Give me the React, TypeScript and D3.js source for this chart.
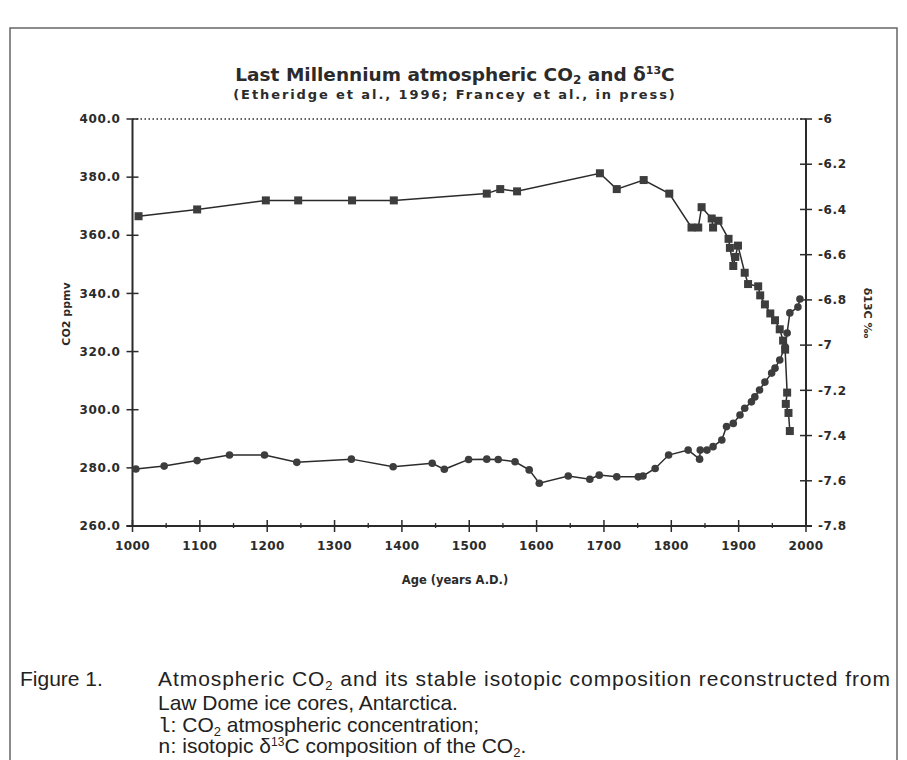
import { scaleLinear, line } from "d3"

// δ13C record (squares, right axis)
const deltaYears = [
  1009, 1096, 1198, 1246, 1326, 1388, 1526, 1546, 1571, 1694, 1719, 1759, 1797,
  1830, 1840, 1845, 1860, 1862, 1870, 1885, 1887, 1892, 1895, 1899, 1909, 1914,
  1929, 1932, 1939, 1947, 1954, 1961, 1966, 1969, 1972, 1970, 1974, 1976,
]
const deltaValues = [
  -6.43, -6.4, -6.36, -6.36, -6.36, -6.36, -6.33, -6.31, -6.32, -6.24, -6.31,
  -6.27, -6.33, -6.48, -6.48, -6.39, -6.44, -6.48, -6.45, -6.53, -6.57, -6.65,
  -6.61, -6.56, -6.68, -6.73, -6.74, -6.78, -6.82, -6.86, -6.89, -6.93, -6.98,
  -7.02, -7.21, -7.26, -7.3, -7.38,
]

// CO2 record (circles, left axis)
const co2Years = [
  1005, 1047, 1096, 1144, 1196, 1244, 1325, 1387, 1445, 1463, 1499, 1526, 1543,
  1568, 1589, 1604, 1647, 1679, 1693, 1719, 1751, 1758, 1776, 1796, 1825, 1842,
  1843, 1853, 1862, 1875, 1882, 1892, 1902, 1909, 1919, 1924, 1931, 1939, 1949,
  1954, 1961, 1969, 1972, 1976, 1988, 1991,
]
const co2Values = [
  279.6, 280.6, 282.5, 284.4, 284.4, 281.9, 283.0, 280.4, 281.6, 279.5, 282.9,
  283.0, 282.9, 282.1, 279.3, 274.7, 277.2, 276.1, 277.5, 276.9, 276.9, 277.2,
  279.8, 284.4, 286.1, 283.0, 286.1, 286.1, 287.3, 289.6, 294.2, 295.3, 298.2,
  300.5, 302.7, 304.4, 306.8, 309.5, 312.6, 314.3, 317.1, 321.6, 326.4, 333.3,
  335.3, 338.1,
]

const yearTicks = [1000, 1100, 1200, 1300, 1400, 1500, 1600, 1700, 1800, 1900, 2000]
const yearMinorTicks = [1050, 1150, 1250, 1350, 1450, 1550, 1650, 1750, 1850, 1950]
const co2Ticks = [400, 380, 360, 340, 320, 300, 280, 260]
const deltaTicks = [-6, -6.2, -6.4, -6.6, -6.8, -7, -7.2, -7.4, -7.6, -7.8]
const deltaTickLabels = ["-6", "-6.2", "-6.4", "-6.6", "-6.8", "-7", "-7.2", "-7.4", "-7.6", "-7.8"]

const INK = "#2b2b2b"
const MARK = "#3d3d3d"
const chartFont = "'DejaVu Sans', sans-serif"
const captionFont = "'Liberation Sans', Arial, sans-serif"
const monoFont = "'Liberation Mono', monospace"

export default function App() {
  const x = scaleLinear().domain([1000, 2000]).range([132.5, 806])
  const yCo2 = scaleLinear().domain([260, 400]).range([526, 119])
  const yDelta = scaleLinear().domain([-7.8, -6]).range([526, 119])

  const co2Pts = co2Years.map((yr, i) => [x(yr), yCo2(co2Values[i])] as [number, number])
  const deltaPts = deltaYears.map((yr, i) => [x(yr), yDelta(deltaValues[i])] as [number, number])
  const path = line()

  const [x0, x1] = x.range()
  const [yBottom, yTop] = yCo2.range()

  return (
    <svg
      width={907}
      height={760}
      style={{ position: "absolute", left: 0, top: 0, background: "#fff" }}
    >
      {/* frame */}
      <rect x={10} y={28} width={887} height={760} fill="none" stroke="#666" strokeWidth={1.5} />

      {/* titles */}
      <text x={455} y={81} textAnchor="middle" fontFamily={chartFont} fontWeight="bold" fontSize={18.5} fill={INK}>
        Last Millennium atmospheric CO
        <tspan fontSize={12} dy={3}>2</tspan>
        <tspan dy={-3}> and δ</tspan>
        <tspan fontSize={11} dy={-7}>13</tspan>
        <tspan dy={7}>C</tspan>
      </text>
      <text x={455} y={99} textAnchor="middle" fontFamily={chartFont} fontWeight="bold" fontSize={13} letterSpacing={1.9} fill={INK}>
        (Etheridge et al., 1996; Francey et al., in press)
      </text>

      {/* axes lines */}
      <line x1={x0} x2={x1} y1={yTop} y2={yTop} stroke={INK} strokeWidth={1.3} strokeDasharray="1.5,2.5" />
      <line x1={x0} x2={x0} y1={yTop} y2={yBottom} stroke={INK} strokeWidth={2} />
      <line x1={x1} x2={x1} y1={yTop} y2={yBottom} stroke={INK} strokeWidth={2} />
      <line x1={x0 - 6} x2={x1 + 6} y1={yBottom} y2={yBottom} stroke={INK} strokeWidth={2} />

      {/* left axis */}
      {co2Ticks.map((t) => (
        <g key={t} transform={`translate(0,${yCo2(t)})`}>
          <line x1={x0 - 6} x2={x0 + 6} stroke={INK} strokeWidth={1.5} />
          <text x={x0 - 12} dy="0.35em" textAnchor="end" fontFamily={chartFont} fontWeight="bold" fontSize={12} letterSpacing={0.6} fill={INK}>
            {t.toFixed(1)}
          </text>
        </g>
      ))}

      {/* right axis */}
      {deltaTicks.map((t, i) => (
        <g key={t} transform={`translate(0,${yDelta(t)})`}>
          <line x1={x1 - 6} x2={x1 + 6} stroke={INK} strokeWidth={1.5} />
          <text x={x1 + 12} dy="0.35em" textAnchor="start" fontFamily={chartFont} fontWeight="bold" fontSize={12} letterSpacing={0.6} fill={INK}>
            {deltaTickLabels[i]}
          </text>
        </g>
      ))}

      {/* bottom axis */}
      {yearTicks.map((t) => (
        <g key={t} transform={`translate(${x(t)},${yBottom})`}>
          <line y1={-6} y2={6} stroke={INK} strokeWidth={1.5} />
          <text y={24} textAnchor="middle" fontFamily={chartFont} fontWeight="bold" fontSize={12} letterSpacing={0.4} fill={INK}>
            {t}
          </text>
        </g>
      ))}
      {yearMinorTicks.map((t) => (
        <line key={t} x1={x(t)} x2={x(t)} y1={yBottom - 3} y2={yBottom + 2} stroke={INK} strokeWidth={1.3} />
      ))}

      {/* axis titles */}
      <text x={455} y={584} textAnchor="middle" fontFamily={chartFont} fontWeight="bold" fontSize={11.5} fill={INK}>
        Age (years A.D.)
      </text>
      <text transform="translate(70,314) rotate(-90)" textAnchor="middle" fontFamily={chartFont} fontWeight="bold" fontSize={11} fill={INK}>
        CO2 ppmv
      </text>
      <text transform="translate(864,313) rotate(90)" textAnchor="middle" fontFamily={chartFont} fontWeight="bold" fontSize={11} fill={INK}>
        δ13C ‰
      </text>

      {/* series lines */}
      <path d={path(deltaPts) ?? ""} fill="none" stroke={INK} strokeWidth={1.5} />
      <path d={path(co2Pts) ?? ""} fill="none" stroke={INK} strokeWidth={1.5} />

      {/* markers */}
      {deltaPts.map(([px, py], i) => (
        <rect key={`d${i}`} x={px - 4} y={py - 4} width={8} height={8} fill={MARK} />
      ))}
      {co2Pts.map(([px, py], i) => (
        <circle key={`c${i}`} cx={px} cy={py} r={3.8} fill={MARK} />
      ))}

      {/* caption */}
      <g fontFamily={captionFont} fontSize={21} fill="#222">
        <text x={20} y={686}>Figure 1.</text>
        <text x={158} y={686} textLength={732} lengthAdjust="spacing">
          Atmospheric CO<tspan fontSize={13} dy={4}>2</tspan>
          <tspan dy={-4}> and its stable isotopic composition reconstructed from</tspan>
        </text>
        <text x={158} y={710}>Law Dome ice cores, Antarctica.</text>
        <text x={158} y={732}>
          <tspan fontFamily={monoFont}>l</tspan>
          <tspan>: CO</tspan>
          <tspan fontSize={13} dy={4}>2</tspan>
          <tspan dy={-4}> atmospheric concentration;</tspan>
        </text>
        <text x={158} y={753}>
          <tspan fontFamily={monoFont}>n</tspan>
          <tspan>: isotopic δ</tspan>
          <tspan fontSize={12} dy={-7}>13</tspan>
          <tspan dy={7}>C composition of the CO</tspan>
          <tspan fontSize={13} dy={4}>2</tspan>
          <tspan dy={-4}>.</tspan>
        </text>
      </g>
    </svg>
  )
}
